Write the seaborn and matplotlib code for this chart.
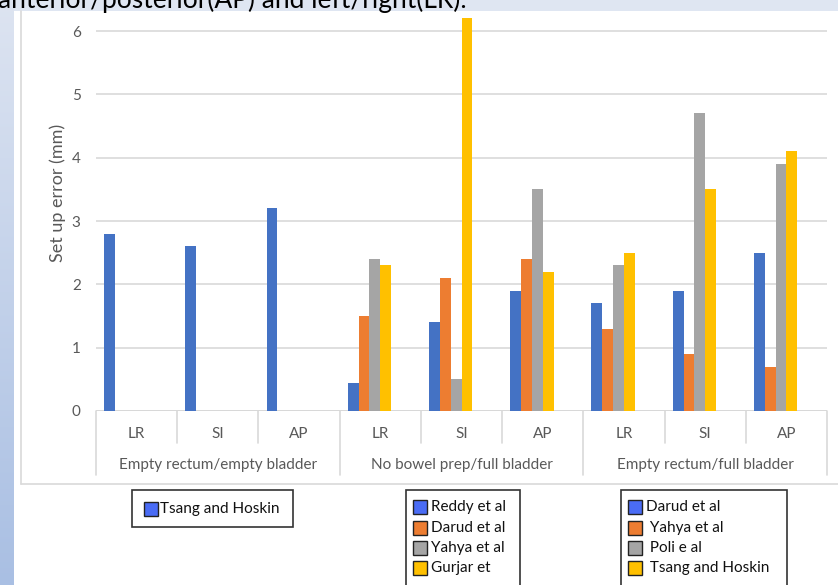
import numpy as np
import pandas as pd
import matplotlib
matplotlib.use("Agg")
import matplotlib.pyplot as plt
import seaborn as sns
from matplotlib.patches import Rectangle
from matplotlib.transforms import blended_transform_factory

# ---- data -------------------------------------------------------------
groups = ["Empty rectum/empty bladder", "No bowel prep/full bladder",
          "Empty rectum/full bladder"]
directions = ["LR", "SI", "AP"]
y_ticks = [0, 1, 2, 3, 4, 5, 6]

# set-up error (mm), one list per study slot, values ordered LR, SI, AP
empty_empty_slot1 = [2.8, 2.6, 3.2]

no_bowel_full_slot1 = [0.45, 1.4, 1.9]
no_bowel_full_slot2 = [1.5, 2.1, 2.4]
no_bowel_full_slot3 = [2.4, 0.5, 3.5]
no_bowel_full_slot4 = [2.3, 6.2, 2.2]

empty_full_slot1 = [1.7, 1.9, 2.5]
empty_full_slot2 = [1.3, 0.9, 0.7]
empty_full_slot3 = [2.3, 4.7, 3.9]
empty_full_slot4 = [2.5, 3.5, 4.1]

legend_empty_empty = ["Tsang and Hoskin"]
legend_no_bowel_full = ["Reddy et al", "Darud et al", "Yahya et al", "Gurjar et"]
legend_empty_full = ["Darud et al", " Yahya et al", " Poli e al", " Tsang and Hoskin"]

slots = ["slot1", "slot2", "slot3", "slot4", "slot5", "slot6"]
bar_colors = {"slot1": "#4472C4", "slot2": "#ED7D31", "slot3": "#A5A5A5",
              "slot4": "#FFC000", "slot5": "#FFFFFF", "slot6": "#FFFFFF"}
legend_colors = ["#4A6CF5", "#ED7D31", "#A5A5A5", "#FFC000"]

group_series = [
    {"slot1": empty_empty_slot1},
    {"slot1": no_bowel_full_slot1, "slot2": no_bowel_full_slot2,
     "slot3": no_bowel_full_slot3, "slot4": no_bowel_full_slot4},
    {"slot1": empty_full_slot1, "slot2": empty_full_slot2,
     "slot3": empty_full_slot3, "slot4": empty_full_slot4},
]

rows = []
cat_order = []
for g, series in zip(groups, group_series):
    for d_i, d in enumerate(directions):
        key = f"{g}|{d}"
        cat_order.append(key)
        for slot, vals in series.items():
            rows.append({"cat": key, "slot": slot, "value": vals[d_i]})
df = pd.DataFrame(rows)

# ---- figure -----------------------------------------------------------
W, H = 838, 585
sns.set_theme(style="white")
plt.rcParams["font.family"] = ["Lato", "DejaVu Sans"]
fig = plt.figure(figsize=(W / 100, H / 100), dpi=100)

# background overlay in pixel coordinates (origin top-left)
bg = fig.add_axes([0, 0, 1, 1], zorder=0)
bg.set_axis_off()

# slide decoration: top band and left gradient band
bg.add_patch(Rectangle((0, 0), W, 11, facecolor="#DFE6F2", edgecolor="none"))
grad = np.linspace(0, 1, 256)[:, None]
c_top = np.array([0xDD, 0xE4, 0xF1]) / 255
c_bot = np.array([0xA9, 0xBF, 0xE3]) / 255
img = c_top[None, None, :] * (1 - grad[:, :, None]) + c_bot[None, None, :] * grad[:, :, None]
bg.imshow(img, extent=(0, 13, H, 0), aspect="auto", zorder=1)
bg.set_xlim(0, W)
bg.set_ylim(H, 0)

fig.text(-2 / W, 1 - 8 / H, "anterior/posterior(AP) and left/right(LR).",
         fontsize=19, color="#000000", ha="left", va="baseline")

# chart frame
bg.plot([21, 21], [11, 484], color="#D9D9D9", lw=1.2, zorder=2)
bg.plot([21, W], [484, 484], color="#D9D9D9", lw=1.2, zorder=2)

# main plotting area
y0_px, unit_px = 411, 63.33
ymax = 6.2
top_px = y0_px - ymax * unit_px
ax = fig.add_axes([96 / W, (H - y0_px) / H, 731 / W, (y0_px - top_px) / H], zorder=2)
ax.patch.set_alpha(0)

sns.barplot(data=df, x="cat", y="value", hue="slot", order=cat_order,
            hue_order=slots, palette=bar_colors, width=0.8, dodge=True,
            saturation=1, errorbar=None, linewidth=0, legend=False, ax=ax)

ax.set_xlim(-0.5, len(cat_order) - 0.5)
ax.set_ylim(0, ymax)
ax.set_yticks(y_ticks)
ax.set_yticklabels([str(t) for t in y_ticks])
ax.set_xticks([])
ax.set_xlabel("")
ax.set_ylabel("")
for s in ax.spines.values():
    s.set_visible(False)
ax.yaxis.grid(True, color="#D9D9D9", lw=1.2)
ax.set_axisbelow(True)
ax.tick_params(axis="y", length=0, pad=11, labelsize=11, labelcolor="#595959")
ax.axhline(0, color="#D0D0D0", lw=1.2, zorder=0.5)

# two-level category axis drawn below the plot
tr = blended_transform_factory(ax.transData, fig.transFigure)
def fy(px):
    return 1 - px / H

for i in range(len(cat_order) + 1):
    x = i - 0.5
    bottom = 475 if i % 3 == 0 else 443
    ax.plot([x, x], [fy(y0_px), fy(bottom)], transform=tr, color="#D9D9D9",
            lw=1.2, clip_on=False)
for i, key in enumerate(cat_order):
    ax.text(i, fy(434), key.split("|")[1], transform=tr, ha="center",
            va="center", fontsize=11, color="#595959")
for g_i, g in enumerate(groups):
    ax.text(3 * g_i + 1, fy(465), g, transform=tr, ha="center", va="center",
            fontsize=11, color="#595959")

fig.text(58 / W, fy(193), "Set up error (mm)", rotation=90, ha="center",
         va="center", fontsize=13, color="#595959")

# legend boxes
def legend_box(x0, y0, x1, y1, patch_x, text_x, row_ys, labels):
    bg.add_patch(Rectangle((x0, y0), x1 - x0, y1 - y0, facecolor="white",
                           edgecolor="#333333", lw=1.2, zorder=3))
    for yc, lab, col in zip(row_ys, labels, legend_colors):
        bg.add_patch(Rectangle((patch_x, yc - 7), 14, 14, facecolor=col,
                               edgecolor="#222222", lw=1.0, zorder=4))
        bg.text(text_x, yc, lab, ha="left", va="center", fontsize=11,
                color="#111111", zorder=4)

legend_box(132, 490, 293, 527, 144, 160, [509], legend_empty_empty)
rows_y = [507, 528, 548, 568]
legend_box(406, 490, 520, 600, 413, 431, rows_y, legend_no_bowel_full)
legend_box(621, 490, 787, 600, 628, 646, rows_y, legend_empty_full)

fig.savefig("out.png", dpi=100)
